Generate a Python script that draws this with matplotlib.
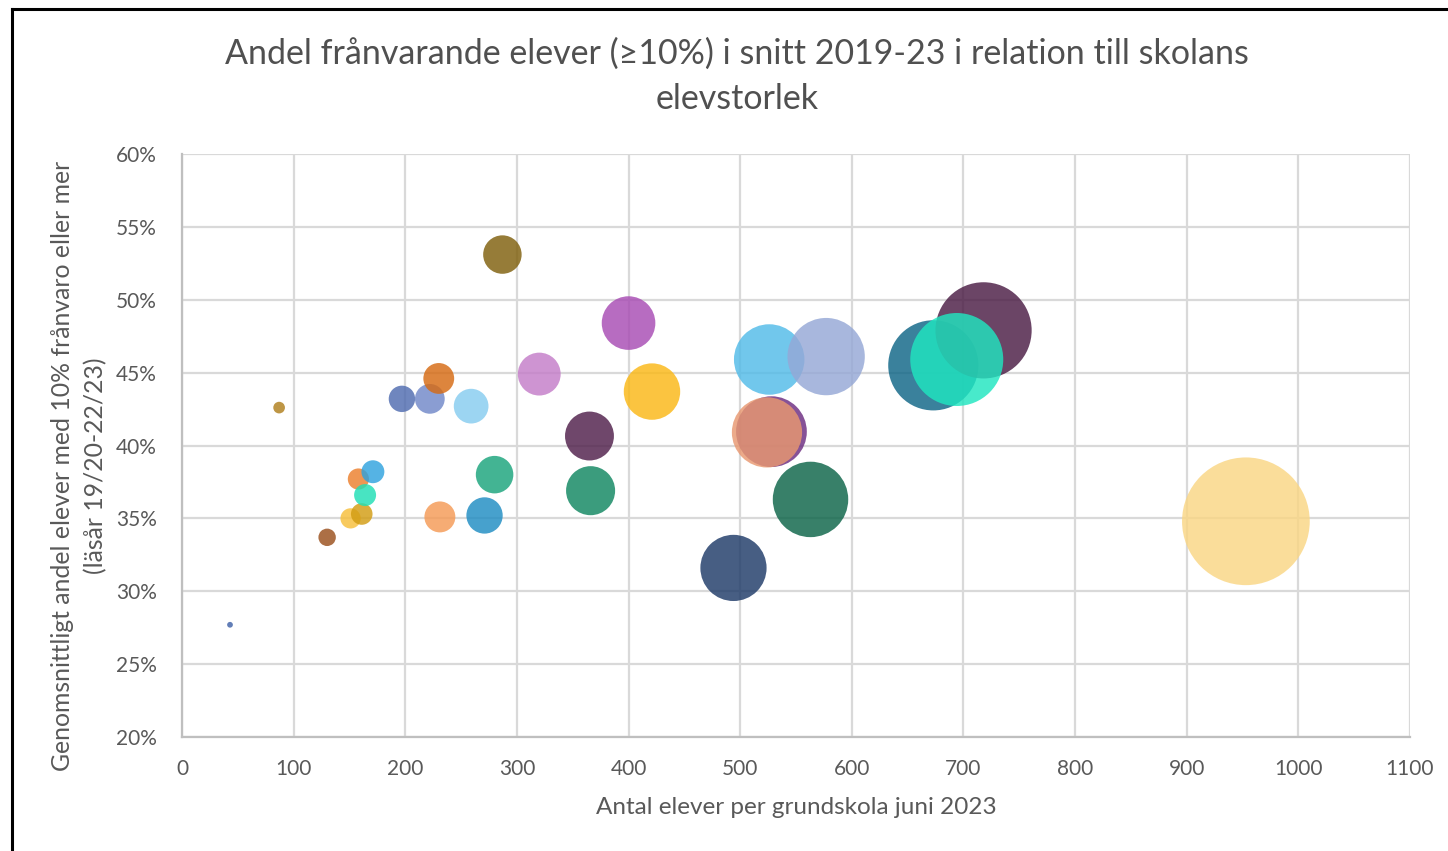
import matplotlib.pyplot as plt
from matplotlib.lines import Line2D
from matplotlib.ticker import FuncFormatter

# antal elever per skola (x) och andel frånvarande elever i % (y)
elever = [43, 87, 130, 151, 161, 158, 164, 171, 197, 222, 230, 259, 231, 271, 280,
          287, 320, 365, 366, 400, 421, 494, 526, 577, 528, 524, 563, 673, 718, 694, 953]
andel = [27.7, 42.6, 33.7, 35.0, 35.3, 37.7, 36.6, 38.2, 43.2, 43.2, 44.6, 42.7, 35.1, 35.2, 38.0,
         53.1, 44.9, 40.65, 36.9, 48.4, 43.7, 31.6, 45.9, 46.1, 40.95, 40.9, 36.3, 45.5, 47.9, 45.9, 34.8]
farger = ['#3f62a8', '#b07f1c', '#9a4f1c', '#f7bf3a', '#d29c12', '#ec7f2c', '#20dfb5', '#2fa2de',
          '#4f6cb0', '#7088c8', '#d66a12', '#86ccf0', '#f59a55', '#1f8cc2', '#1aa47c',
          '#7f5f0c', '#c47dc8', '#4f1f4a', '#108660', '#a84cb4', '#fbb816', '#1e3a68',
          '#52bbe8', '#95a8d6', '#6c2c80', '#e89870', '#0c6448', '#0f6586', '#4a1c44', '#20e6c0', '#fad684']

fnt = ['Lato', 'DejaVu Sans']
grå = '#595959'

fig = plt.figure(figsize=(14.48, 8.51), dpi=100)
ax = fig.add_axes([182/1448, 1-737/851, 1228/1448, 583/851])

# bubbelns diameter motsvarar antalet elever (storlek = bredd)
px_per_elev = 0.134
s = [(e * px_per_elev * 0.72) ** 2 for e in elever]
ax.scatter(elever, andel, s=s, c=farger, alpha=0.82, linewidths=0, zorder=3)

ax.set_xlim(0, 1100)
ax.set_ylim(20, 60)
ax.set_xticks(range(0, 1101, 100))
ax.set_yticks(range(20, 61, 5))
ax.yaxis.set_major_formatter(FuncFormatter(lambda v, p: f"{v:.0f}%"))
ax.grid(True, color='#d9d9d9', linewidth=1.6, zorder=0)
for sp in ['top', 'right']:
    ax.spines[sp].set_visible(False)
for sp in ['left', 'bottom']:
    ax.spines[sp].set_color('#bfbfbf')
    ax.spines[sp].set_linewidth(1.6)
ax.tick_params(length=0, labelsize=15, labelcolor=grå)
ax.tick_params(axis='x', pad=16)
ax.tick_params(axis='y', pad=18)
for lab in ax.get_xticklabels() + ax.get_yticklabels():
    lab.set_family(fnt)

fig.text(737/1448, 1-54/851, "Andel frånvarande elever (≥10%) i snitt 2019-23 i relation till skolans",
         ha='center', va='center', fontsize=24.5, color='#505050', family=fnt)
fig.text(737/1448, 1-99/851, "elevstorlek",
         ha='center', va='center', fontsize=24.5, color='#505050', family=fnt)

fig.text(796/1448, 1-808/851, "Antal elever per grundskola juni 2023",
         ha='center', va='center', fontsize=17.5, color=grå, family=fnt)
fig.text(63/1448, 1-466/851, "Genomsnittligt andel elever med 10% frånvaro eller mer",
         ha='center', va='center', rotation=90, fontsize=17.8, color=grå, family=fnt)
fig.text(96/1448, 1-466/851, "(läsår 19/20-22/23)",
         ha='center', va='center', rotation=90, fontsize=17.8, color=grå, family=fnt)

# svart ram runt bilden (vänster och överkant syns)
fig.add_artist(Line2D([12/1448, 12/1448], [0, 1-9/851], color='black', linewidth=2.2, transform=fig.transFigure))
fig.add_artist(Line2D([12/1448, 1], [1-9/851, 1-9/851], color='black', linewidth=2.2, transform=fig.transFigure))

fig.savefig("out.png", dpi=100)
